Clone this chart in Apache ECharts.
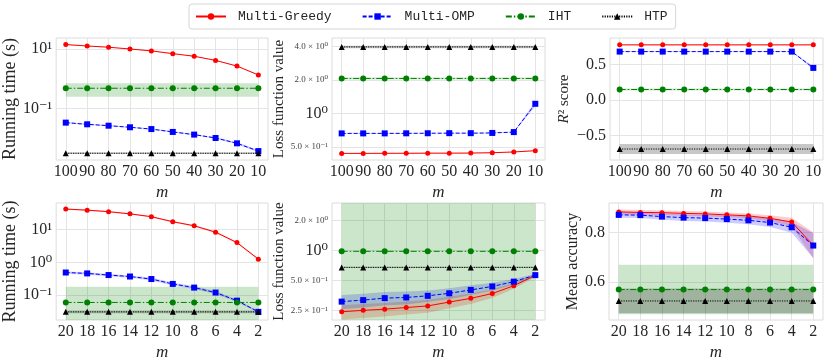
<!DOCTYPE html>
<html>
<head>
<meta charset="utf-8">
<script src="https://cdn.jsdelivr.net/npm/echarts@6/dist/echarts.min.js"></script>
<style>
  html, body { margin: 0; padding: 0; background: #fff; }
  #chart { width: 830px; height: 362px; }
</style>
</head>
<body>
<div id="chart"></div>
<script>
// x values (m)
const mTop = [100, 90, 80, 70, 60, 50, 40, 30, 20, 10];
const mBottom = [20, 18, 16, 14, 12, 10, 8, 6, 4, 2];

// top-left: running time (s)
const timeTopGreedy = [14.4, 12.9, 11.7, 10.2, 8.8, 7.1, 5.8, 4.2, 2.7, 1.35];
const timeTopGreedyStd = [0.3, 0.3, 0.25, 0.2, 0.2, 0.15, 0.12, 0.1, 0.08, 0.05];
const timeTopOmp = [0.033, 0.029, 0.026, 0.023, 0.020, 0.016, 0.013, 0.010, 0.0066, 0.0036];
const timeTopOmpStd = [0.0015, 0.0013, 0.0012, 0.001, 0.001, 0.0008, 0.0007, 0.0006, 0.0005, 0.0003];
const timeTopIht = [0.48, 0.48, 0.48, 0.48, 0.48, 0.48, 0.48, 0.48, 0.48, 0.48];
const timeTopIhtStd = [0.23, 0.23, 0.23, 0.23, 0.23, 0.23, 0.23, 0.23, 0.23, 0.23];
const timeTopHtp = [0.00305, 0.00305, 0.00305, 0.00305, 0.00305, 0.00305, 0.00305, 0.00305, 0.00305, 0.00305];
const timeTopHtpStd = [0.0002, 0.0002, 0.0002, 0.0002, 0.0002, 0.0002, 0.0002, 0.0002, 0.0002, 0.0002];

// top-middle: loss function value
const lossTopGreedy = [0.438, 0.438, 0.439, 0.439, 0.440, 0.440, 0.441, 0.444, 0.451, 0.463];
const lossTopGreedyStd = [0.003, 0.003, 0.003, 0.003, 0.003, 0.003, 0.003, 0.003, 0.003, 0.004];
const lossTopOmp = [0.662, 0.662, 0.662, 0.663, 0.664, 0.665, 0.665, 0.668, 0.68, 1.22];
const lossTopOmpStd = [0.005, 0.005, 0.005, 0.005, 0.005, 0.005, 0.005, 0.005, 0.006, 0.06];
const lossTopIht = [2.06, 2.06, 2.06, 2.06, 2.06, 2.06, 2.06, 2.06, 2.06, 2.06];
const lossTopIhtStd = [0.04, 0.04, 0.04, 0.04, 0.04, 0.04, 0.04, 0.04, 0.04, 0.04];
const lossTopHtp = [3.95, 3.95, 3.95, 3.95, 3.95, 3.95, 3.95, 3.95, 3.95, 3.95];
const lossTopHtpStd = [0.1, 0.1, 0.1, 0.1, 0.1, 0.1, 0.1, 0.1, 0.1, 0.1];

// top-right: R^2 score
const r2TopGreedy = [0.78, 0.78, 0.78, 0.78, 0.78, 0.78, 0.78, 0.78, 0.78, 0.78];
const r2TopGreedyStd = [0.005, 0.005, 0.005, 0.005, 0.005, 0.005, 0.005, 0.005, 0.005, 0.005];
const r2TopOmp = [0.685, 0.685, 0.685, 0.685, 0.685, 0.685, 0.685, 0.685, 0.685, 0.455];
const r2TopOmpStd = [0.005, 0.005, 0.005, 0.005, 0.005, 0.005, 0.005, 0.005, 0.005, 0.02];
const r2TopIht = [0.15, 0.15, 0.15, 0.15, 0.15, 0.15, 0.15, 0.15, 0.15, 0.15];
const r2TopIhtStd = [0.015, 0.015, 0.015, 0.015, 0.015, 0.015, 0.015, 0.015, 0.015, 0.015];
const r2TopHtp = [-0.69, -0.69, -0.69, -0.69, -0.69, -0.69, -0.69, -0.69, -0.69, -0.69];
const r2TopHtpStd = [0.07, 0.07, 0.07, 0.07, 0.07, 0.07, 0.07, 0.07, 0.07, 0.07];

// bottom-left: running time (s)
const timeBotGreedy = [42, 39, 35, 30, 24.6, 17.3, 13, 8.3, 4.0, 1.25];
const timeBotGreedyStd = [2, 2, 1.8, 1.5, 1.3, 0.9, 0.7, 0.6, 0.25, 0.08];
const timeBotOmp = [0.49, 0.46, 0.41, 0.37, 0.31, 0.22, 0.17, 0.12, 0.068, 0.031];
const timeBotOmpStd = [0.04, 0.04, 0.035, 0.03, 0.03, 0.022, 0.017, 0.013, 0.006, 0.002];
const timeBotIht = [0.060, 0.060, 0.060, 0.060, 0.060, 0.060, 0.060, 0.060, 0.060, 0.060];
const timeBotIhtStd = [0.12, 0.12, 0.12, 0.12, 0.12, 0.12, 0.12, 0.12, 0.12, 0.12];
const timeBotHtp = [0.031, 0.031, 0.031, 0.031, 0.031, 0.031, 0.031, 0.031, 0.031, 0.031];
const timeBotHtpStd = [0.003, 0.003, 0.003, 0.003, 0.003, 0.003, 0.003, 0.003, 0.003, 0.003];

// bottom-middle: loss function value
const lossBotGreedy = [0.242, 0.25, 0.257, 0.267, 0.277, 0.303, 0.33, 0.369, 0.442, 0.561];
const lossBotGreedyStd = [0.04, 0.04, 0.04, 0.04, 0.04, 0.04, 0.04, 0.037, 0.03, 0.02];
const lossBotOmp = [0.306, 0.317, 0.332, 0.337, 0.35, 0.371, 0.401, 0.435, 0.486, 0.565];
const lossBotOmpStd = [0.05, 0.05, 0.05, 0.05, 0.045, 0.045, 0.045, 0.04, 0.03, 0.02];
const lossBotIht = [0.98, 0.98, 0.98, 0.98, 0.98, 0.98, 0.98, 0.98, 0.98, 0.98];
const lossBotIhtStd = [2.5, 2.5, 2.5, 2.5, 2.5, 2.5, 2.5, 2.5, 2.5, 2.5];
const lossBotHtp = [0.676, 0.676, 0.676, 0.676, 0.676, 0.676, 0.676, 0.676, 0.676, 0.676];
const lossBotHtpStd = [0.01, 0.01, 0.01, 0.01, 0.01, 0.01, 0.01, 0.01, 0.01, 0.01];

// bottom-right: mean accuracy
const accBotGreedy = [0.884, 0.882, 0.881, 0.878, 0.876, 0.872, 0.868, 0.858, 0.843, 0.749];
const accBotGreedyStd = [0.01, 0.01, 0.01, 0.01, 0.01, 0.01, 0.01, 0.012, 0.017, 0.053];
const accBotOmp = [0.872, 0.871, 0.865, 0.861, 0.859, 0.855, 0.850, 0.841, 0.822, 0.748];
const accBotOmpStd = [0.012, 0.012, 0.013, 0.014, 0.014, 0.015, 0.016, 0.018, 0.022, 0.05];
const accBotIht = [0.570, 0.570, 0.570, 0.570, 0.570, 0.570, 0.570, 0.570, 0.570, 0.570];
const accBotIhtStd = [0.1, 0.1, 0.1, 0.1, 0.1, 0.1, 0.1, 0.1, 0.1, 0.1];
const accBotHtp = [0.524, 0.524, 0.524, 0.524, 0.524, 0.524, 0.524, 0.524, 0.524, 0.524];
const accBotHtpStd = [0.05, 0.05, 0.05, 0.05, 0.05, 0.05, 0.05, 0.05, 0.05, 0.05];

// tick values
const tickTopX = [100, 90, 80, 70, 60, 50, 40, 30, 20, 10];
const tickBotX = [20, 18, 16, 14, 12, 10, 8, 6, 4, 2];
const tickTimeTop = [10, 0.1];
const tickTimeBot = [10, 1, 0.1];
const tickLossTop = [4, 2, 1, 0.5];
const tickLossBot = [2, 1, 0.5, 0.25];
const tickR2 = [0.5, 0, -0.5];
const tickAcc = [0.8, 0.6];

const methods = [
  { name: 'Multi-Greedy', color: '#ff0000', band: 'rgba(255,0,0,0.2)', symbol: 'circle', size: 5, type: 'solid' },
  { name: 'Multi-OMP', color: '#0000ff', band: 'rgba(0,0,255,0.2)', symbol: 'rect', size: 6, type: [4, 2] },
  { name: 'IHT', color: '#008000', band: 'rgba(0,128,0,0.2)', symbol: 'circle', size: 6, type: [6, 2, 1.5, 2] },
  { name: 'HTP', color: '#000000', band: 'rgba(0,0,0,0.22)', symbol: 'triangle', size: 6, type: [1.2, 1.2] }
];

const SERIF = '"Liberation Serif", "DejaVu Serif", serif';
const TEXT = '#262626';
const sup = s => String(s).split('').map(c => ({'0':'⁰','1':'¹','2':'²','3':'³','4':'⁴','5':'⁵','6':'⁶','7':'⁷','8':'⁸','9':'⁹','-':'⁻'})[c]).join('');

const powLabel = v => '10' + sup(Math.round(Math.log10(v)));
const mixedLabel = v => {
  const e = Math.floor(Math.log10(v) + 1e-9);
  const mant = v / Math.pow(10, e);
  if (Math.abs(mant - 1) < 1e-6) return '{b|10' + sup(e) + '}';
  return '{s|' + mant.toFixed(1) + ' × 10' + sup(e) + '}';
};
const decLabel = v => (v < 0 ? '−' : '') + Math.abs(v).toFixed(1);

const panels = [
  { grid: { left: 53, top: 38, width: 215, height: 122 }, xs: mTop, xr: [5.5, 104.5], xt: tickTopX,
    y: { type: 'log', min: 0.0018, max: 24, ticks: tickTimeTop, fmt: powLabel }, yName: 'Running time (s)', nameGap: 34, nameSize: 18,
    data: [[timeTopGreedy, timeTopGreedyStd], [timeTopOmp, timeTopOmpStd], [timeTopIht, timeTopIhtStd], [timeTopHtp, timeTopHtpStd]] },
  { grid: { left: 332, top: 38, width: 213, height: 122 }, xs: mTop, xr: [5.5, 104.5], xt: tickTopX,
    y: { type: 'log', min: 0.382, max: 4.75, ticks: tickLossTop, fmt: mixedLabel }, yName: 'Loss function value', nameGap: 43, nameSize: 15,
    data: [[lossTopGreedy, lossTopGreedyStd], [lossTopOmp, lossTopOmpStd], [lossTopIht, lossTopIhtStd], [lossTopHtp, lossTopHtpStd]] },
  { grid: { left: 610, top: 38, width: 213, height: 122 }, xs: mTop, xr: [5.5, 104.5], xt: tickTopX,
    y: { type: 'value', min: -0.845, max: 0.877, ticks: tickR2, fmt: decLabel }, yName: '{i|R}{n|² score}', nameGap: 38, nameSize: 15,
    data: [[r2TopGreedy, r2TopGreedyStd], [r2TopOmp, r2TopOmpStd], [r2TopIht, r2TopIhtStd], [r2TopHtp, r2TopHtpStd]] },
  { grid: { left: 53, top: 203, width: 215, height: 120 }, xs: mBottom, xr: [1.1, 20.9], xt: tickBotX,
    y: { type: 'log', min: 0.0175, max: 64.3, ticks: tickTimeBot, fmt: powLabel }, yName: 'Running time (s)', nameGap: 34, nameSize: 18,
    data: [[timeBotGreedy, timeBotGreedyStd], [timeBotOmp, timeBotOmpStd], [timeBotIht, timeBotIhtStd], [timeBotHtp, timeBotHtpStd]] },
  { grid: { left: 332, top: 203, width: 213, height: 120 }, xs: mBottom, xr: [1.1, 20.9], xt: tickBotX,
    y: { type: 'log', min: 0.2, max: 3.0, ticks: tickLossBot, fmt: mixedLabel }, yName: 'Loss function value', nameGap: 43, nameSize: 15,
    data: [[lossBotGreedy, lossBotGreedyStd], [lossBotOmp, lossBotOmpStd], [lossBotIht, lossBotIhtStd], [lossBotHtp, lossBotHtpStd]] },
  { grid: { left: 609, top: 203, width: 214, height: 120 }, xs: mBottom, xr: [1.1, 20.9], xt: tickBotX,
    y: { type: 'value', min: 0.447, max: 0.92, ticks: tickAcc, fmt: decLabel }, yName: 'Mean accuracy', nameGap: 24, nameSize: 16,
    data: [[accBotGreedy, accBotGreedyStd], [accBotOmp, accBotOmpStd], [accBotIht, accBotIhtStd], [accBotHtp, accBotHtpStd]] }
];

const grids = [], xAxes = [], yAxes = [], series = [];

panels.forEach((p, i) => {
  grids.push(Object.assign({ show: true, borderColor: '#dcdcdc', borderWidth: 1, backgroundColor: '#fff' }, p.grid));
  xAxes.push({
    type: 'value', gridIndex: i, inverse: true, min: p.xr[0], max: p.xr[1],
    name: 'm', nameLocation: 'middle', nameGap: 24,
    nameTextStyle: { fontFamily: SERIF, fontStyle: 'italic', fontSize: 17, color: TEXT },
    axisLine: { show: false }, axisTick: { show: false, customValues: p.xt },
    axisLabel: { customValues: p.xt, margin: 4, fontFamily: SERIF, fontSize: 16, color: TEXT },
    splitLine: { show: true, lineStyle: { color: '#e4e4e4', width: 1 } }
  });
  yAxes.push({
    type: p.y.type, gridIndex: i, min: p.y.min, max: p.y.max,
    name: p.yName, nameLocation: 'middle', nameGap: p.nameGap, nameRotate: 90,
    nameTextStyle: { fontFamily: SERIF, fontSize: p.nameSize, color: TEXT,
      rich: { i: { fontFamily: SERIF, fontStyle: 'italic', fontSize: p.nameSize, color: TEXT },
              n: { fontFamily: SERIF, fontSize: p.nameSize, color: TEXT } } },
    axisLine: { show: false }, axisTick: { show: false, customValues: p.y.ticks },
    axisLabel: { customValues: p.y.ticks, margin: 4, fontFamily: SERIF, fontSize: 16, color: TEXT,
      formatter: p.y.fmt,
      rich: { b: { fontFamily: SERIF, fontSize: 16, color: TEXT }, s: { fontFamily: SERIF, fontSize: 9, color: '#444' } } },
    splitLine: { show: true, lineStyle: { color: '#e4e4e4', width: 1 } }
  });

  // mean ± std bands, one polygon per method, clipped to the plot area
  p.data.forEach(([mean, std], j) => {
    const m = methods[j];
    const lo = mean.map((v, k) => p.y.type === 'log' ? Math.max(v - std[k], 1e-4) : v - std[k]);
    const hi = mean.map((v, k) => v + std[k]);
    series.push({
      type: 'custom', xAxisIndex: i, yAxisIndex: i, silent: true, z: 1,
      encode: { x: 0, y: 1 },
      data: p.xs.map((x, k) => [x, mean[k]]),
      renderItem: (params, api) => {
        if (params.dataIndex !== 0) return null;
        const top = p.xs.map((x, k) => api.coord([x, hi[k]]));
        const bot = p.xs.map((x, k) => api.coord([x, lo[k]])).reverse();
        const cs = params.coordSys;
        const pts = echarts.graphic.clipPointsByRect(top.concat(bot),
          { x: cs.x, y: cs.y, width: cs.width, height: cs.height });
        return { type: 'polygon', shape: { points: pts }, style: { fill: m.band } };
      }
    });
  });
  p.data.forEach(([mean], j) => {
    const m = methods[j];
    series.push({
      name: m.name, type: 'line', xAxisIndex: i, yAxisIndex: i, z: 3 + j,
      symbol: m.symbol, symbolSize: m.size, showAllSymbol: true,
      itemStyle: { color: m.color },
      lineStyle: { color: m.color, width: 1, type: m.type },
      data: p.xs.map((x, k) => [x, mean[k]])
    });
  });
});

const chart = echarts.init(document.getElementById('chart'), null, { renderer: 'canvas' });
chart.setOption({
  animation: false,
  backgroundColor: '#fff',
  legend: {
    data: methods.map(m => m.name),
    left: 189, top: 4,
    padding: [6, 8, 6, 6],
    itemWidth: 30, itemHeight: 8, itemGap: 30,
    borderColor: '#d6d6d6', borderWidth: 1, borderRadius: 3,
    textStyle: { fontFamily: '"Liberation Mono", "DejaVu Sans Mono", monospace', fontSize: 13, color: TEXT, padding: [0, 0, 0, 7] }
  },
  grid: grids,
  xAxis: xAxes,
  yAxis: yAxes,
  series
});
</script>
</body>
</html>
